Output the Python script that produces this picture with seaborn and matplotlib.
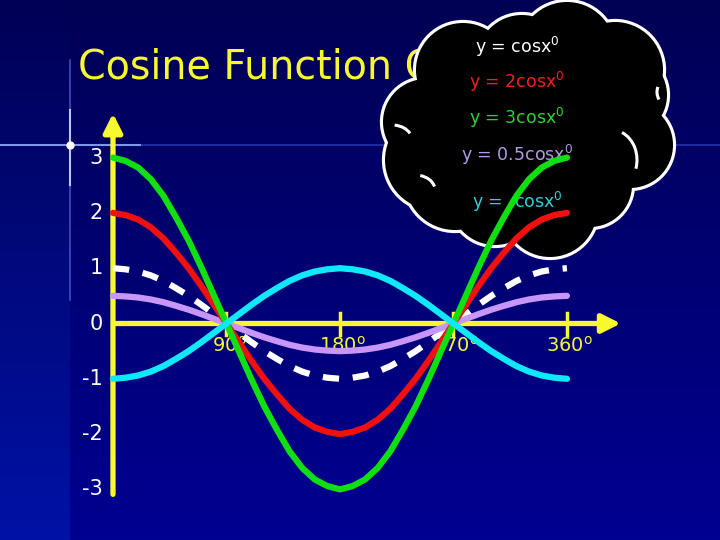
import matplotlib
matplotlib.use("Agg")
import matplotlib.pyplot as plt
import numpy as np
import pandas as pd
import seaborn as sns
from matplotlib.patches import Circle, Arc, Ellipse

# chart data
angles = [0, 10, 20, 30, 40, 50, 60, 70, 80, 90, 100, 110, 120, 130, 140, 150, 160, 170, 180,
          190, 200, 210, 220, 230, 240, 250, 260, 270, 280, 290, 300, 310, 320, 330, 340, 350, 360]
cos_values = [1.00, 0.98, 0.94, 0.87, 0.77, 0.64, 0.50, 0.34, 0.17, 0.00, -0.17, -0.34, -0.50,
              -0.64, -0.77, -0.87, -0.94, -0.98, -1.00, -0.98, -0.94, -0.87, -0.77, -0.64, -0.50,
              -0.34, -0.17, 0.00, 0.17, 0.34, 0.50, 0.64, 0.77, 0.87, 0.94, 0.98, 1.00]
series_names = ["y = cosx", "y = 0.5cosx", "y = 2cosx", "y = 3cosx", "y = -cosx"]
amplitudes = [1, 0.5, 2, 3, -1]
line_colors = ["white", "#c896f8", "#f01010", "#10e010", "#10e8f8"]
line_styles = ["dash", "solid", "solid", "solid", "solid"]

legend_labels = [r"y = cosx$^0$", r"y = 2cosx$^0$", r"y = 3cosx$^0$", r"y = 0.5cosx$^0$", r"y = -cosx$^0$"]
legend_colors = ["white", "#f02020", "#30d030", "#b49ae8", "#30d0d8"]

y_ticks = [3, 2, 1, 0, -1, -2, -3]
x_ticks = [90, 180, 270, 360]
title = "Cosine Function Graphs"

df = pd.concat([pd.DataFrame({"angle": angles,
                              "value": [a * c for c in cos_values],
                              "series": name})
                for name, a in zip(series_names, amplitudes)])

font = "DejaVu Sans"
yellow = "#f8f830"

fig = plt.figure(figsize=(7.2, 5.4), dpi=100)

# background layer in pixel coordinates
bg = fig.add_axes([0, 0, 1, 1], zorder=0)
bg.set_xlim(0, 720)
bg.set_ylim(540, 0)
bg.axis("off")

rows = np.linspace(0, 1, 540)[:, None]
img = np.zeros((540, 720, 3))
img[:, :, 2] = 0.33 + 0.24 * rows
img[:, :70, 2] = 0.33 + 0.32 * rows[:, 0][:, None]
img[:, :70, 1] = 0.07 * rows[:, 0][:, None]
bg.imshow(img, extent=(0, 720, 540, 0), aspect="auto")

# lens flare
bg.plot([0, 720], [145, 145], color="#4a70ff", lw=1.2, alpha=0.45)
bg.plot([0, 140], [145, 145], color="#9ab4ff", lw=1.5, alpha=0.8)
bg.plot([70, 70], [60, 300], color="#6a8cff", lw=1.2, alpha=0.55)
bg.plot([70, 70], [110, 185], color="#c8d8ff", lw=1.5, alpha=0.9)
bg.scatter([70], [145], s=25, color="white", zorder=3)

bg.text(78, 68, title, color=yellow, fontsize=28.5, family=font, va="center", ha="left")

# cloud
bumps = [(463, 70, 47), (522, 60, 45), (567, 50, 48), (615, 70, 48), (625, 95, 42),
         (630, 145, 43), (590, 185, 42), (550, 210, 47), (495, 200, 45), (455, 180, 50),
         (435, 160, 50), (426, 122, 43)]
for cx, cy, r in bumps:
    bg.add_patch(Circle((cx, cy), r, facecolor="black", edgecolor="white", lw=4.5, zorder=4))
for cx, cy, r in bumps:
    bg.add_patch(Circle((cx, cy), r, facecolor="black", edgecolor="none", zorder=5))
bg.add_patch(Ellipse((528, 130), 230, 200, facecolor="black", edgecolor="none", zorder=5))
for cx, cy, w, h, t1, t2 in [(612, 160, 50, 60, 290, 20), (672, 92, 30, 30, 150, 200),
                             (392, 140, 40, 30, 280, 340), (415, 190, 40, 30, 290, 350)]:
    bg.add_patch(Arc((cx, cy), w, h, theta1=t1, theta2=t2, color="white", lw=2.2, zorder=6))

for i, (lab, col) in enumerate(zip(legend_labels, legend_colors)):
    ypos = [47, 82, 118, 155, 202][i]
    bg.text(517, ypos, lab, color=col, fontsize=12.5, family=font, ha="center", va="center", zorder=7)

# chart layer
ax = fig.add_axes([0, 0, 1, 1], zorder=1)
ax.patch.set_alpha(0)
ax.set_xlim(-89.6, 481.4)
ax.set_ylim(-3.915, 5.85)
ax.axis("off")

# axes with arrows
ax.annotate("", xy=(0, 3.85), xytext=(0, -3.14),
            arrowprops=dict(arrowstyle="-|>", color=yellow, lw=3.8, mutation_scale=28))
ax.annotate("", xy=(405, 0), xytext=(0, 0),
            arrowprops=dict(arrowstyle="-|>", color=yellow, lw=3.8, mutation_scale=28))
for t in x_ticks:
    ax.plot([t, t], [0.19, -0.21], color=yellow, lw=2.5)
    ax.text(t + 2, -0.4, f"{t}" + r"$^\mathrm{o}$", color=yellow, fontsize=14, family=font,
            ha="center", va="center", zorder=1)
for v in y_ticks:
    ax.text(-8, v, f"{v}", color="white", fontsize=15, family=font, ha="right", va="center")

for name, col, st in zip(series_names, line_colors, line_styles):
    part = df[df["series"] == name]
    if st == "dash":
        sns.lineplot(data=part, x="angle", y="value", color=col, linewidth=4.5, ax=ax,
                     linestyle=(0, (2.6, 2.2)), dash_capstyle="butt", zorder=3)
    else:
        sns.lineplot(data=part, x="angle", y="value", color=col, linewidth=4.5, ax=ax,
                     solid_capstyle="round", zorder=3)

fig.savefig("out.png", dpi=100)
